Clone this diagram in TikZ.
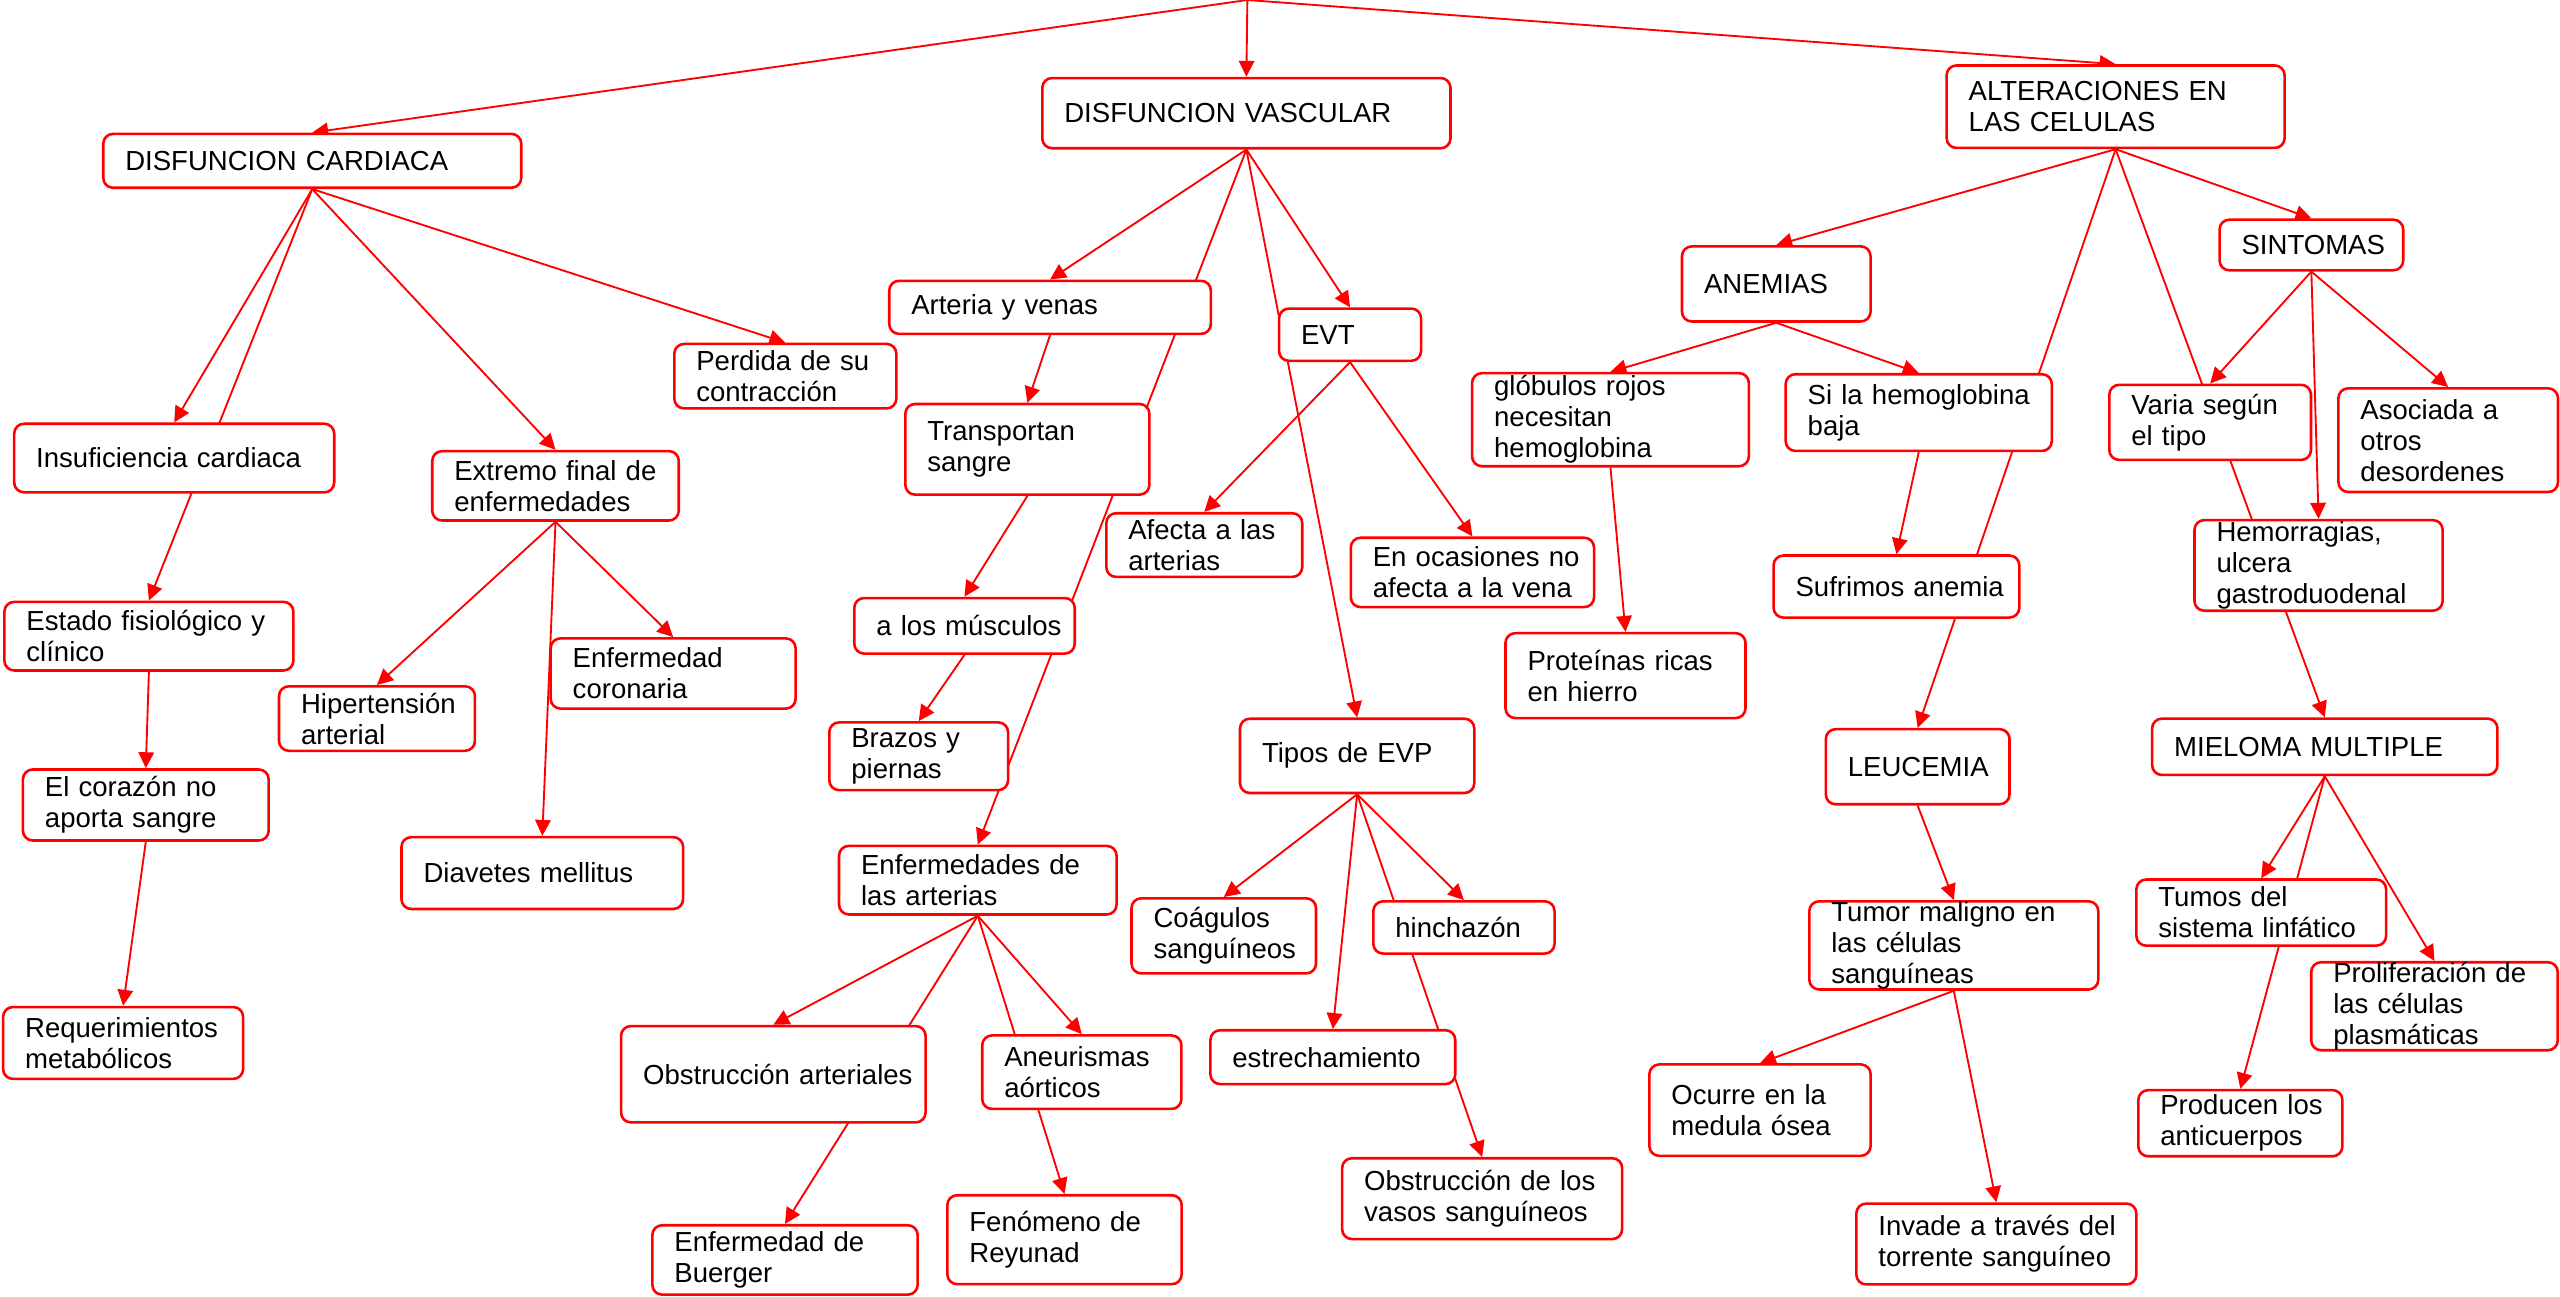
\documentclass[tikz,border=0pt]{standalone}
\usepackage{fontspec}
\setmainfont{Liberation Sans}
\usetikzlibrary{arrows.meta,backgrounds}

\begin{document}
\begin{tikzpicture}[>={Triangle[length=1.95mm,width=1.9mm]},
    box/.style={draw=red, line width=0.9pt, rounded corners=1.2mm, fill=white,
        inner xsep=0pt, inner ysep=0pt, align=left,
        font=\fontsize{9.6}{10.8}\selectfont,
        execute at begin node={\leftskip=0.27cm}},
    link/.style={->, red, line width=0.65pt}]
            \useasboundingbox (0,0) rectangle (31.36,-15.888);
            \coordinate (root) at (15.28,0);
            % DISFUNCION CARDIACA
            \node[box, text width=5.12cm, minimum height=0.66cm] (dc) at (3.825,-1.97) {DISFUNCION CARDIACA};
            \node[box, text width=3.92cm, minimum height=0.84cm] (insuf) at (2.134,-5.611) {Insuficiencia cardiaca};
            \node[box, text width=3.02cm, minimum height=0.85cm] (extremo) at (6.805,-5.951) {Extremo final de\\enfermedades};
            \node[box, text width=2.72cm, minimum height=0.79cm] (perdida) at (9.62,-4.608) {Perdida de su\\contracción};
            \node[box, text width=3.54cm, minimum height=0.84cm] (estado) at (1.824,-7.793) {Estado fisiológico y\\clínico};
            \node[box, text width=2.40cm, minimum height=0.79cm] (hiper) at (4.618,-8.802) {Hipertensión\\arterial};
            \node[box, text width=3.00cm, minimum height=0.86cm] (coronaria) at (8.246,-8.25) {Enfermedad\\coronaria};
            \node[box, text width=3.01cm, minimum height=0.87cm] (corazon) at (1.786,-9.861) {El corazón no\\aporta sangre};
            \node[box, text width=3.45cm, minimum height=0.88cm] (diabetes) at (6.643,-10.695) {Diavetes mellitus};
            \node[box, text width=2.94cm, minimum height=0.88cm] (requer) at (1.508,-12.776) {Requerimientos\\metabólicos};
            % DISFUNCION VASCULAR
            \node[box, text width=5.00cm, minimum height=0.86cm] (dv) at (15.268,-1.386) {DISFUNCION VASCULAR};
            \node[box, text width=3.94cm, minimum height=0.65cm] (arteria) at (12.863,-3.765) {Arteria y venas};
            \node[box, text width=1.74cm, minimum height=0.64cm] (evt) at (16.538,-4.10) {EVT};
            \node[box, text width=2.99cm, minimum height=1.11cm] (transp) at (12.585,-5.504) {Transportan\\sangre};
            \node[box, text width=2.70cm, minimum height=0.68cm] (musculos) at (11.815,-7.666) {a los músculos};
            \node[box, text width=2.40cm, minimum height=0.78cm] (afecta) at (14.752,-6.677) {Afecta a las\\arterias};
            \node[box, text width=2.98cm, minimum height=0.85cm] (ocasiones) at (18.037,-7.012) {En ocasiones no\\afecta a la vena};
            \node[box, text width=2.19cm, minimum height=0.83cm] (brazos) at (11.254,-9.264) {Brazos y\\piernas};
            \node[box, text width=3.40cm, minimum height=0.84cm] (enfart) at (11.978,-10.782) {Enfermedades de\\las arterias};
            \node[box, text width=2.87cm, minimum height=0.91cm] (tipos) at (16.625,-9.259) {Tipos de EVP};
            \node[box, text width=2.26cm, minimum height=0.92cm] (coagulos) at (14.991,-11.464) {Coágulos\\sanguíneos};
            \node[box, text width=2.22cm, minimum height=0.64cm] (hinchazon) at (17.933,-11.361) {hinchazón};
            \node[box, text width=3.00cm, minimum height=0.66cm] (estrecha) at (16.327,-12.95) {estrechamiento};
            \node[box, text width=3.73cm, minimum height=1.18cm] (obsart) at (9.473,-13.159) {Obstrucción arteriales};
            \node[box, text width=2.44cm, minimum height=0.90cm] (aneur) at (13.252,-13.134) {Aneurismas\\aórticos};
            \node[box, text width=3.25cm, minimum height=0.85cm] (buerger) at (9.616,-15.434) {Enfermedad de\\Buerger};
            \node[box, text width=2.87cm, minimum height=1.09cm] (fenomeno) at (13.04,-15.186) {Fenómeno de\\Reyunad};
            \node[box, text width=3.43cm, minimum height=0.99cm] (obsvasos) at (18.156,-14.683) {Obstrucción de los\\vasos sanguíneos};
            % ALTERACIONES EN LAS CELULAS
            \node[box, text width=4.14cm, minimum height=1.01cm] (alt) at (25.916,-1.307) {ALTERACIONES EN\\LAS CELULAS};
            \node[box, text width=2.31cm, minimum height=0.92cm] (anemias) at (21.759,-3.478) {ANEMIAS};
            \node[box, text width=2.25cm, minimum height=0.62cm] (sintomas) at (28.314,-3.001) {SINTOMAS};
            \node[box, text width=3.39cm, minimum height=1.14cm] (globulos) at (19.728,-5.141) {glóbulos rojos\\necesitan\\hemoglobina};
            \node[box, text width=3.26cm, minimum height=0.94cm] (hemob) at (23.504,-5.054) {Si la hemoglobina\\baja};
            \node[box, text width=2.47cm, minimum height=0.92cm] (varia) at (27.074,-5.174) {Varia según\\el tipo};
            \node[box, text width=2.69cm, minimum height=1.27cm] (asociada) at (29.99,-5.392) {Asociada a\\otros\\desordenes};
            \node[box, text width=2.94cm, minimum height=1.04cm] (proteinas) at (19.912,-8.276) {Proteínas ricas\\en hierro};
            \node[box, text width=3.01cm, minimum height=0.76cm] (sufrimos) at (23.231,-7.185) {Sufrimos anemia};
            \node[box, text width=3.04cm, minimum height=1.11cm] (hemorr) at (28.402,-6.926) {Hemorragias,\\ulcera\\gastroduodenal};
            \node[box, text width=2.25cm, minimum height=0.92cm] (leucemia) at (23.491,-9.392) {LEUCEMIA};
            \node[box, text width=4.23cm, minimum height=0.69cm] (mieloma) at (28.478,-9.148) {MIELOMA MULTIPLE};
            \node[box, text width=3.54cm, minimum height=1.08cm] (tumor) at (23.934,-11.581) {Tumor maligno en\\las células\\sanguíneas};
            \node[box, text width=3.06cm, minimum height=0.81cm] (tumos) at (27.70,-11.179) {Tumos del\\sistema linfático};
            \node[box, text width=3.02cm, minimum height=1.07cm] (prolif) at (29.822,-12.326) {Proliferación de\\las células\\plasmáticas};
            \node[box, text width=2.71cm, minimum height=1.12cm] (ocurre) at (21.56,-13.599) {Ocurre en la\\medula ósea};
            \node[box, text width=2.50cm, minimum height=0.81cm] (producen) at (27.444,-13.759) {Producen los\\anticuerpos};
            \node[box, text width=3.43cm, minimum height=0.99cm] (invade) at (24.455,-15.239) {Invade a través del\\torrente sanguíneo};
            % connectors, behind the boxes
            \begin{scope}[on background layer]
            \draw[link] (root) -- (dc.north);
            \draw[link] (root) -- (dv.north);
            \draw[link] (root) -- (alt.north);
            \draw[link] (dc.south) -- (insuf.north);
            \draw[link] (dc.south) -- (estado.north);
            \draw[link] (dc.south) -- (extremo.north);
            \draw[link] (dc.south) -- (perdida.north);
            \draw[link] (estado.south) -- (corazon.north);
            \draw[link] (corazon.south) -- (requer.north);
            \draw[link] (extremo.south) -- (hiper.north);
            \draw[link] (extremo.south) -- (diabetes.north);
            \draw[link] (extremo.south) -- (coronaria.north);
            \draw[link] (dv.south) -- (arteria.north);
            \draw[link] (dv.south) -- (enfart.north);
            \draw[link] (dv.south) -- (evt.north);
            \draw[link] (dv.south) -- (tipos.north);
            \draw[link] (arteria.south) -- (transp.north);
            \draw[link] (transp.south) -- (musculos.north);
            \draw[link] (musculos.south) -- (brazos.north);
            \draw[link] (evt.south) -- (afecta.north);
            \draw[link] (evt.south) -- (ocasiones.north);
            \draw[link] (enfart.south) -- (obsart.north);
            \draw[link] (enfart.south) -- (buerger.north);
            \draw[link] (enfart.south) -- (aneur.north);
            \draw[link] (enfart.south) -- (fenomeno.north);
            \draw[link] (tipos.south) -- (coagulos.north);
            \draw[link] (tipos.south) -- (estrecha.north);
            \draw[link] (tipos.south) -- (hinchazon.north);
            \draw[link] (tipos.south) -- (obsvasos.north);
            \draw[link] (alt.south) -- (anemias.north);
            \draw[link] (alt.south) -- (leucemia.north);
            \draw[link] (alt.south) -- (mieloma.north);
            \draw[link] (alt.south) -- (sintomas.north);
            \draw[link] (anemias.south) -- (globulos.north);
            \draw[link] (anemias.south) -- (hemob.north);
            \draw[link] (globulos.south) -- (proteinas.north);
            \draw[link] (hemob.south) -- (sufrimos.north);
            \draw[link] (sintomas.south) -- (varia.north);
            \draw[link] (sintomas.south) -- (hemorr.north);
            \draw[link] (sintomas.south) -- (asociada.north);
            \draw[link] (leucemia.south) -- (tumor.north);
            \draw[link] (tumor.south) -- (ocurre.north);
            \draw[link] (tumor.south) -- (invade.north);
            \draw[link] (mieloma.south) -- (tumos.north);
            \draw[link] (mieloma.south) -- (producen.north);
            \draw[link] (mieloma.south) -- (prolif.north);
            \end{scope}
        \end{tikzpicture}
\end{document}
